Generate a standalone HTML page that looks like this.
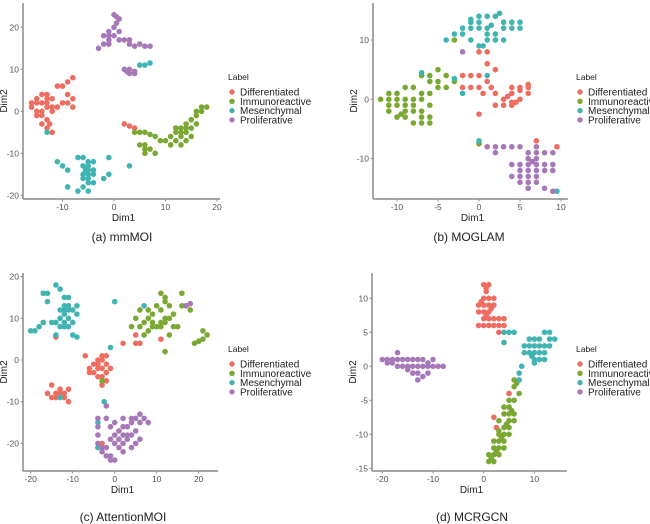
<!DOCTYPE html>
<html><head><meta charset="utf-8"><style>
body{margin:0;background:#fff}
svg{display:block;font-family:"Liberation Sans",Arial,sans-serif}
</style></head><body>
<svg id="chart" width="650" height="524" viewBox="0 0 650 524"></svg>
<script>
const labels=["Differentiated","Immunoreactive","Mesenchymal","Proliferative"];
const colors=["#ee6c60","#7aa832","#40b4b3","#a678b8"];
const aTicksX=[-10,0,10,20], aTicksY=[20,10,0,-10,-20];
const bTicksX=[-10,-5,0,5,10], bTicksY=[10,0,-10];
const cTicksX=[-20,-10,0,10,20], cTicksY=[20,10,0,-10,-20];
const dTicksX=[-20,-10,0,10], dTicksY=[10,5,0,-5,-10,-15];
const aDiff=[[-16,2],[-15,3],[-14,4],[-13,4],[-12,3],[-13,2],[-14,0],[-15,0],[-16,1],[-15,-1],[-14,-1],[-13,-2],[-14,-3],[-13,-4],[-12,-5],[-12,1],[-11,1],[-10,2],[-9,2],[-8,3],[-9,4],[-10,6],[-9,7],[-8,8],[-11,6],[-8,1],[-13,1],[-12,0],[-15,2],[-14,2],[-13,3],[-12.5,-3],[2,-3],[3,-3.5],[4,-4]];
const aImm=[[5,-5],[6,-5],[7,-5.5],[8,-6],[9,-7],[10,-7],[11,-6],[12,-7],[11,-8],[13,-6],[13,-5],[14,-5],[15,-4],[14,-3],[15,-2],[16,-1],[17,0],[18,1],[16,0],[13,-4],[12,-5],[14,-7],[13,-8],[15,-6],[12,-4],[5,-8],[6,-9],[6,-10],[7,-9],[8,-10],[6,-8],[4,-5],[16,-3],[17,1],[14,-4]];
const aMes=[[-6,-11],[-7,-11],[-5,-12],[-6,-13],[-5,-14],[-5,-15],[-4,-15],[-6,-15],[-5,-16],[-4,-17],[-5,-17],[-6,-18],[-7,-19],[-5,-19],[-9,-18],[-11,-12],[-10,-13],[-9,-14],[-4,-12],[-1,-11],[-1,-15],[-2,-16],[3,-13],[-13,-5],[-4,-14],[-6,-16],[-5,-13],[5,11],[6,11],[7,11.5],[-5.5,-14]];
const aPro=[[0,23],[1,22],[0.5,21],[0,20],[-1,19],[0,18],[-1,18],[-2,18],[-1,17],[1,19],[2,17],[3,16],[4,15.5],[5,16],[6,15.5],[7,15.5],[3,17],[-3,15],[-1,16],[0.5,22.5],[2,10],[3,9],[4,9],[3,10],[4,9.5],[2.5,9.5],[1,17],[-2,16]];
const bDiff=[[0,8],[1,8],[-1,4],[0,4],[1,6],[2,5],[1,3],[0,2],[-1,2],[-2,2],[2,1],[3,0],[4,1],[4,2],[5,2],[6,2],[5,0],[4,-1],[3,-1],[2,-1],[6,1],[4,-0.5],[5,1.5],[0.5,1],[-2,4],[0,-2.5],[7,-7],[9.5,-8],[1.5,2],[3.5,0.5],[6,2.5],[4.5,-0.5]];
const bImm=[[-12,0],[-11,-1],[-11,1],[-10,-1],[-10,-3],[-9,0],[-9,-2],[-9,-3],[-8,-1],[-8,-2],[-8,-4],[-7,-2],[-7,-3],[-7,-4],[-6,-1],[-6,-3],[-6,-4],[-6,1],[-5,3],[-5,5],[-4,4],[-4,2],[-5,2],[-6,3],[-7,1],[-7,4],[-8,2],[-9,2],[-10,1],[-11,-2],[-3,3],[-6,4],[-7,0],[-9,-1],[-10,0],[-8,0],[-11,0],[-3,10],[0,-7.5],[-9.5,-2.5]];
const bMes=[[-4,10],[-3,11],[-2,12],[-1,12],[0,13],[1,14],[2,14],[0,12],[1,12],[2,11],[3,12],[4,12],[4,13],[3,13],[5,12],[5,13],[-1,10],[0,9],[1,10],[2,10],[3,10],[1,11],[-1,13],[0,14],[2.5,14.5],[-2,11],[0.5,9],[-3,3.5],[-2,1],[1,4],[0,-7],[-7,4.5],[9.5,-15.5],[-1,13.5],[1.5,12.5]];
const bPro=[[-2,8],[1,-8],[2,-9],[2,-8],[3,-8],[4,-8],[5,-8],[6,-9],[7,-8],[8,-9],[9,-9],[6,-10],[7,-10],[5,-11],[6,-11],[7,-11],[8,-11],[4,-11],[5,-12],[6,-12],[7,-12],[8,-12],[5,-13],[6,-13],[7,-13],[9,-12],[6,-14],[7,-14],[6,-15],[8,-15],[9,-15.5],[5,-14],[9,-11],[4,-13],[7,-9],[6.5,-10.5]];
const cDiff=[[-7,1],[-6,-2],[-5,-3],[-4,-2],[-4,-4],[-3,-2],[-3,0],[-2,-1],[-2,-3],[-1,-2],[-3,1],[-2,1],[-4,0],[-5,-1],[-6,-3],[-3,-4],[-2,-5],[-3,-6],[-15,-6],[-16,-8],[-15,-9],[-14,-8],[-13,-7],[-12,-8],[-12,-9],[-11,-7],[-11,-10],[-13,-8],[-14,-9],[2,4],[5,6],[5,4],[6,4],[11,5],[-14,5.5],[-3,-20],[-2,-3],[-4,-1]];
const cImm=[[4,8],[5,10],[6,8],[7,9],[8,10],[6,12],[8,12],[9,11],[10,13],[11,12],[12,14],[13,13],[11,16],[12,15],[13,10],[14,11],[12,10],[11,9],[10,8],[9,8],[8,7],[11,8],[12,9],[14,8],[15,8],[13,6],[16,13],[17,13],[18,12],[16,16],[19,4],[21,5],[22,6],[21,7],[20,4.5],[12,2],[-3,-5],[-17,16],[7,6],[9,9]];
const cMes=[[-14,18],[-13,17],[-16,16],[-17,16],[-16,14],[-12,15],[-11,15],[-12,13],[-11,13],[-10,12],[-9,13],[-9,11],[-10,9],[-12,11],[-13,10],[-14,9],[-15,9],[-13,8],[-12,8],[-11,8],[-13,12],[-12,12],[-11,10],[-10,6],[-9,5.5],[-17,9],[-19,7],[-20,7],[-18,8],[-14,6],[0,14],[-1,3],[7,13],[-13,-9],[-2.5,-10],[-4,-15],[-4,-21],[-11,12],[-12,9]];
const cPro=[[-2,-11],[-4,-14],[-4,-16],[-4,-18],[-2,-14],[-1,-16],[0,-15],[1,-17],[2,-14],[2,-18],[3,-16],[4,-15],[4,-14],[5,-14],[6,-13],[6,-15],[7,-14],[8,-15],[5,-17],[4,-18],[3,-19],[2,-20],[1,-19],[0,-20],[-1,-19],[-2,-21],[-3,-22],[-1,-23],[1,-21],[2,-22],[0,-24],[-1,-24],[-2,-23],[4,-21],[5,-20],[6,-19],[3,-18],[-4,-20],[17,13],[18,13.5],[-3,-21],[2,-16],[0,-18]];
const dDiff=[[0,12],[1,12],[0.5,11],[1,10],[0,10],[-1,9],[0,9],[1,9],[2,9],[2,10],[1,8],[0,8],[-1,8],[0,7],[1,7],[2,7],[3,7],[4,7],[-1,6],[0,6],[1,6],[2,6],[3,6],[4,6],[3,5],[0.5,7.5],[-0.5,9.5],[1.5,8.5],[4,3.5],[5,-4],[2,-7.5],[2.5,-9],[0.5,11.5]];
const dImm=[[6,-2],[6,-3],[7,-4],[5,-5],[4,-6],[5,-7],[6,-7],[4,-7],[3,-8],[5,-8],[6,-8],[4,-9],[5,-9],[3,-10],[4,-10],[5,-10],[2,-11],[3,-11],[4,-11],[2,-12],[3,-12],[1,-13],[2,-13],[3,-13],[1,-14],[2,-14],[1.5,-13.5],[4,-12],[3,-9.5],[5,-6],[6,-5],[6.5,-2.5],[5.5,-6.5],[4.5,-8.5],[2.5,-12.5],[3.5,-10.5]];
const dMes=[[4,5],[5,5],[6,5],[4,3.5],[8,3],[9,4],[10,4],[11,4],[12,5],[13,5],[14,4],[9,2],[10,2],[11,3],[12,3],[13,3],[10,1],[11,1],[12,2],[9,3],[10,3],[8,2],[13,4],[12,1],[10,0.5],[7.5,0],[7,-1],[7,-2],[11,2],[9.5,1.5]];
const dPro=[[-20,1],[-19,1],[-18,1],[-18,0.5],[-17,1],[-17,0],[-17,2],[-16,1],[-16,0],[-15,1],[-15,-0.5],[-14,0],[-14,1],[-13,1],[-13,0],[-13,-1],[-12,0],[-12,1],[-11,0],[-11,-1],[-10,0],[-10,1],[-9,0],[-8,0],[-14,-1],[-13,-2],[-12,-1.5],[-19,0.5],[-15,0],[-11,0.5]];

const NS="http://www.w3.org/2000/svg";
const svg=document.getElementById("chart");
function mk(tag,attrs,parent){const e=document.createElementNS(NS,tag);for(const k in attrs)e.setAttribute(k,attrs[k]);(parent||svg).appendChild(e);return e;}

const panels=[
 {id:"a",title:"(a) mmMOI",x0:114,kx:5.15,y0:111.3,ky:4.2,left:23,right:220,top:3,bottom:199,tx:aTicksX,ty:aTicksY,series:[aDiff,aImm,aMes,aPro],leg:[228,80],cap:[122,241]},
 {id:"b",title:"(b) MOGLAM",x0:479,kx:8.2,y0:99.3,ky:5.93,left:373,right:568,top:3,bottom:199,tx:bTicksX,ty:bTicksY,series:[bDiff,bImm,bMes,bPro],leg:[576,80],cap:[469,241]},
 {id:"c",title:"(c) AttentionMOI",x0:114.7,kx:4.2,y0:360,ky:4.17,left:23,right:218,top:273,bottom:471,tx:cTicksX,ty:cTicksY,series:[cDiff,cImm,cMes,cPro],leg:[228,352],cap:[123,521]},
 {id:"d",title:"(d) MCRGCN",x0:483.7,kx:5.07,y0:366.3,ky:6.8,left:372,right:567,top:273,bottom:471,tx:dTicksX,ty:dTicksY,series:[dDiff,dImm,dMes,dPro],leg:[576,352],cap:[472,521]}
];

panels.forEach(p=>{
 const g=mk("g",{});
 
 
 const sx=v=>p.x0+p.kx*v, sy=v=>p.y0-p.ky*v;
 const ya=mk("line",{x1:p.left,y1:p.top,x2:p.left,y2:p.bottom,stroke:"#8a8a8a","stroke-width":1.5},g);
 
 
 const xa=mk("line",{x1:p.left,y1:p.bottom,x2:p.right,y2:p.bottom,stroke:"#8a8a8a","stroke-width":1.5},g);
 
 
 p.tx.forEach(v=>{
  mk("line",{x1:sx(v),y1:p.bottom,x2:sx(v),y2:p.bottom+2.5,stroke:"#8a8a8a"},g);
  const t=mk("text",{x:sx(v),y:p.bottom+11,"text-anchor":"middle","font-size":8.5,fill:"#555"},g);
  t.textContent=v;
  
  
 });
 p.ty.forEach(v=>{
  mk("line",{x1:p.left-2.5,y1:sy(v),x2:p.left,y2:sy(v),stroke:"#8a8a8a"},g);
  const t=mk("text",{x:p.left-4,y:sy(v)+3,"text-anchor":"end","font-size":8.5,fill:"#555"},g);
  t.textContent=v;
  
  
 });
 const xt=mk("text",{x:(p.left+p.right)/2+2,y:p.bottom+22,"text-anchor":"middle","font-size":10,fill:"#222"},g);
 xt.textContent="Dim1";
 
 
 const ycy=(p.top+p.bottom)/2;
 const yt=mk("text",{x:p.left-16,y:ycy,"text-anchor":"middle","font-size":10,fill:"#222",transform:`rotate(-90 ${p.left-16} ${ycy})`},g);
 yt.textContent="Dim2";
 
 
 p.series.forEach((s,i)=>{
  s.forEach(pt=>{
   const c=mk("circle",{cx:sx(pt[0]),cy:sy(pt[1]),r:2.8,fill:colors[i]},g);
   
   
  });
 });
 const lt=mk("text",{x:p.leg[0],y:p.leg[1],"font-size":8.5,fill:"#222"},g);
 lt.textContent="Label";
 
 
 labels.forEach((l,i)=>{
  const yy=p.leg[1]+12+i*9.3;
  const c=mk("circle",{cx:p.leg[0]+4,cy:yy,r:2.7,fill:colors[i]},g);
  
  
  const t=mk("text",{x:p.leg[0]+12,y:yy+3.5,"font-size":10,fill:"#222"},g);
  t.textContent=l;
  
  
 });
 const cap=mk("text",{x:p.cap[0],y:p.cap[1],"text-anchor":"middle","font-size":12,fill:"#222"},g);
 cap.textContent=p.title;
 
 
});
</script>
</body></html>
